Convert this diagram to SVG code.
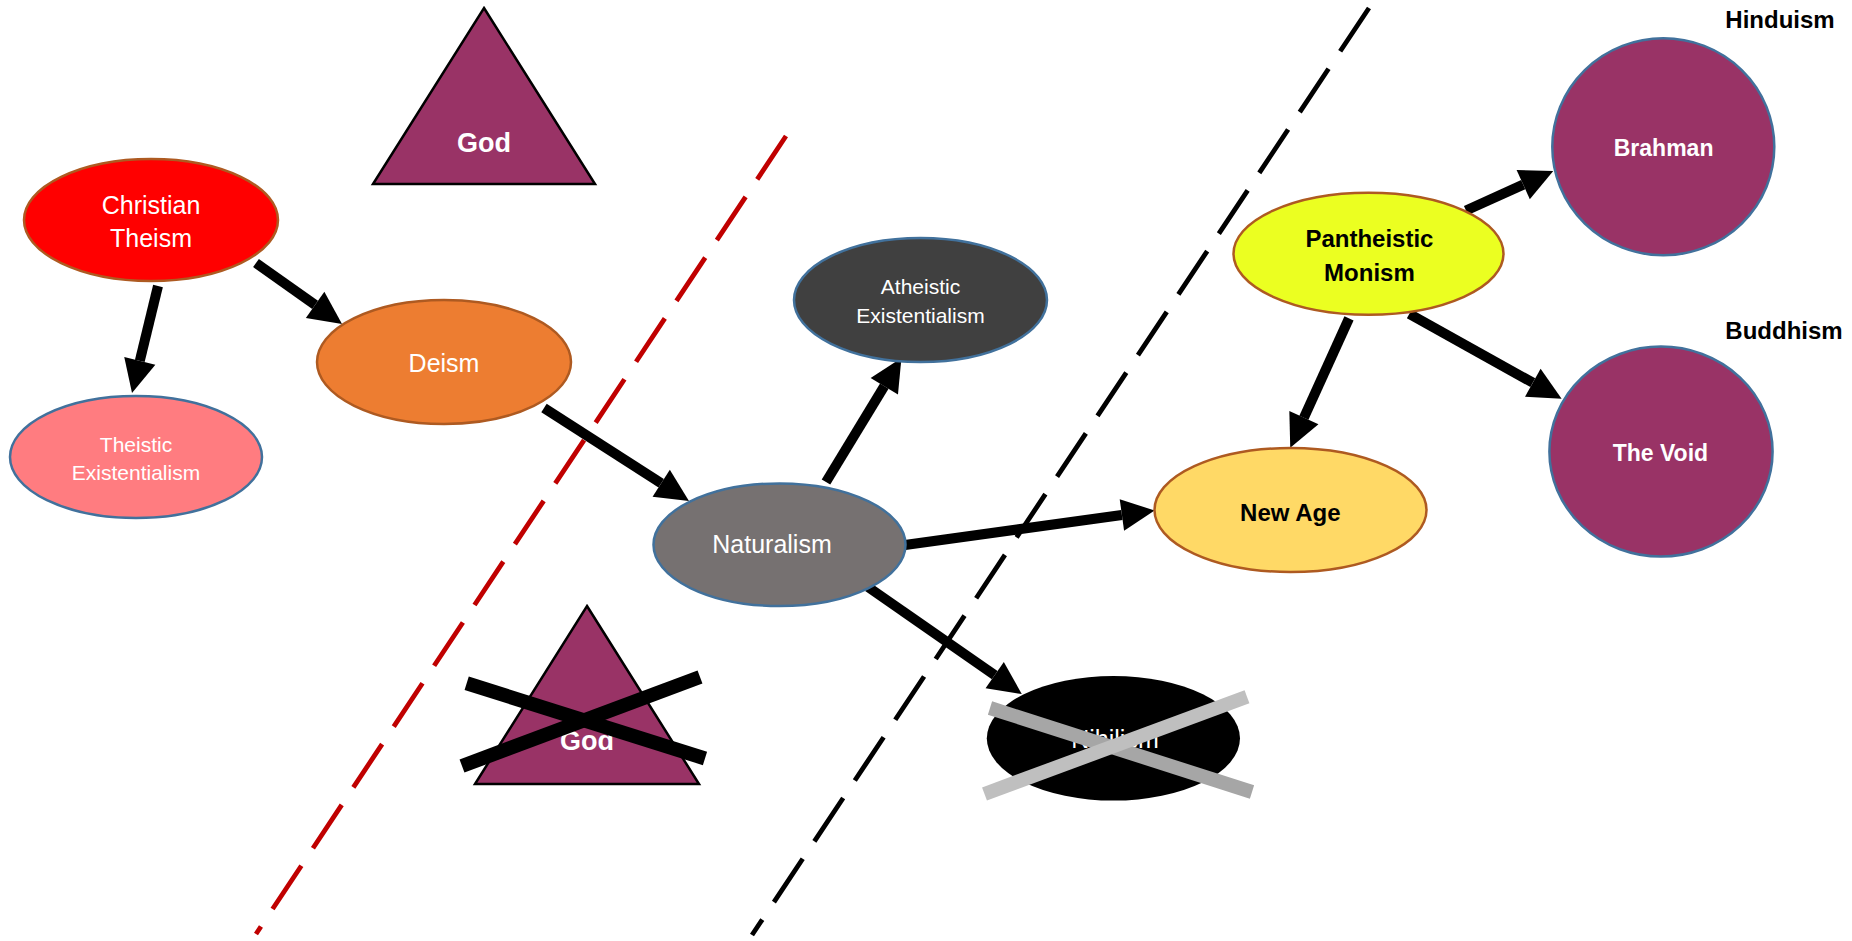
<svg xmlns="http://www.w3.org/2000/svg" width="1852" height="941" viewBox="0 0 1852 941">
<style>
  text { font-family: "Liberation Sans", Arial, sans-serif; text-anchor: middle; }
  .w { fill: #FFFFFF; font-size: 25px; }
  .ws { fill: #FFFFFF; font-size: 21px; }
  .wb { fill: #FFFFFF; font-size: 23px; font-weight: bold; }
  .kb { fill: #000000; font-size: 24px; font-weight: bold; }
  .god { fill: #FFFFFF; font-size: 27px; font-weight: bold; }
  .brown { stroke: #AE5A21; stroke-width: 2.5; }
  .blue { stroke: #41719C; stroke-width: 2.5; }
  .tri { fill: #993366; stroke: #000000; stroke-width: 2.5; }
  .arrow { stroke: #000000; stroke-width: 10; fill: none; marker-end: url(#ah); }
  .div { fill: none; stroke-width: 4.8; stroke-dasharray: 52 21; }
</style>
<defs>
  <marker id="ah" markerUnits="userSpaceOnUse" markerWidth="34" markerHeight="34" refX="0" refY="16" orient="auto" overflow="visible">
    <path d="M0,0 L33,16 L0,32 Z" fill="#000000"/>
  </marker>
</defs>
<rect width="1852" height="941" fill="#FFFFFF"/>

<g id="dividers">
  <line x1="786" y1="136" x2="256" y2="934" class="div" stroke="#C00000"/>
  <line x1="1369" y1="8" x2="752" y2="935" class="div" stroke="#000000"/>
</g>

<g id="connectors">
  <line class="arrow" x1="158" y1="286" x2="139.8" y2="360.9"/>
  <line class="arrow" x1="256" y1="263" x2="315.1" y2="304.9"/>
  <line class="arrow" x1="544" y1="408" x2="661.2" y2="483.2"/>
  <line class="arrow" x1="826" y1="482" x2="884.3" y2="386.2"/>
  <line class="arrow" x1="905" y1="545" x2="1121.9" y2="515"/>
  <line class="arrow" x1="868" y1="587" x2="994.7" y2="675.2"/>
  <line class="arrow" x1="1466" y1="210.5" x2="1523.2" y2="184.6"/>
  <line class="arrow" x1="1409.3" y1="313.8" x2="1532.8" y2="382.7"/>
  <line class="arrow" x1="1349" y1="318.4" x2="1303.9" y2="417.7"/>
</g>

<g id="god-top">
  <polygon class="tri" points="484,8 595,184 373,184"/>
  <text class="god" x="484" y="151.5">God</text>
</g>

<g id="christian-theism">
  <ellipse cx="151" cy="220" rx="127" ry="61" fill="#FF0000" class="brown"/>
  <text class="w" x="151" y="213.5">Christian</text>
  <text class="w" x="151" y="247">Theism</text>
</g>

<g id="theistic-existentialism">
  <ellipse cx="136" cy="457" rx="126" ry="61" fill="#FF7C80" class="blue"/>
  <text class="ws" x="136" y="452">Theistic</text>
  <text class="ws" x="136" y="480">Existentialism</text>
</g>

<g id="deism">
  <ellipse cx="444" cy="362" rx="127" ry="62" fill="#ED7D31" class="brown"/>
  <text class="w" x="444" y="372">Deism</text>
</g>

<g id="atheistic-existentialism">
  <ellipse cx="920.5" cy="300" rx="126.5" ry="62" fill="#404040" class="blue"/>
  <text class="ws" x="920.5" y="294.4">Atheistic</text>
  <text class="ws" x="920.5" y="322.7">Existentialism</text>
</g>

<g id="naturalism">
  <ellipse cx="779.5" cy="544.7" rx="126" ry="61.3" fill="#767171" class="blue"/>
  <text class="w" x="772" y="553.3">Naturalism</text>
</g>

<g id="god-crossed">
  <polygon class="tri" points="587,606 699,784 475,784"/>
  <text class="god" x="587" y="750">God</text>
  <line x1="466.7" y1="683.3" x2="705" y2="758.5" stroke="#000000" stroke-width="14"/>
  <line x1="462" y1="766" x2="700" y2="677" stroke="#000000" stroke-width="14"/>
</g>

<g id="nihilism">
  <ellipse cx="1113.4" cy="738.3" rx="126.6" ry="62.3" fill="#000000"/>
  <text class="w" x="1115" y="748">Nihilism</text>
  <line x1="990" y1="708" x2="1252" y2="792" stroke="#A6A6A6" stroke-width="14"/>
  <line x1="984.5" y1="794" x2="1247" y2="696.7" stroke="#BFBFBF" stroke-width="14"/>
</g>

<g id="new-age">
  <ellipse cx="1290.5" cy="510" rx="136" ry="62" fill="#FFD966" class="brown"/>
  <text class="kb" x="1290.3" y="520.5">New Age</text>
</g>

<g id="pantheistic-monism">
  <ellipse cx="1368.5" cy="253.7" rx="135" ry="61" fill="#EBFF21" class="brown"/>
  <text class="kb" x="1369.4" y="246.8">Pantheistic</text>
  <text class="kb" x="1369.4" y="281">Monism</text>
</g>

<g id="brahman">
  <ellipse cx="1663.3" cy="146.8" rx="111" ry="108.5" fill="#993366" class="blue"/>
  <text class="wb" x="1663.6" y="156">Brahman</text>
</g>

<g id="the-void">
  <ellipse cx="1661" cy="451.6" rx="111.6" ry="105" fill="#993366" class="blue"/>
  <text class="wb" x="1660.4" y="461">The Void</text>
</g>

<g id="hinduism-label">
  <text class="kb" x="1780" y="28">Hinduism</text>
</g>
<g id="buddhism-label">
  <text class="kb" x="1784" y="338.7">Buddhism</text>
</g>
</svg>
